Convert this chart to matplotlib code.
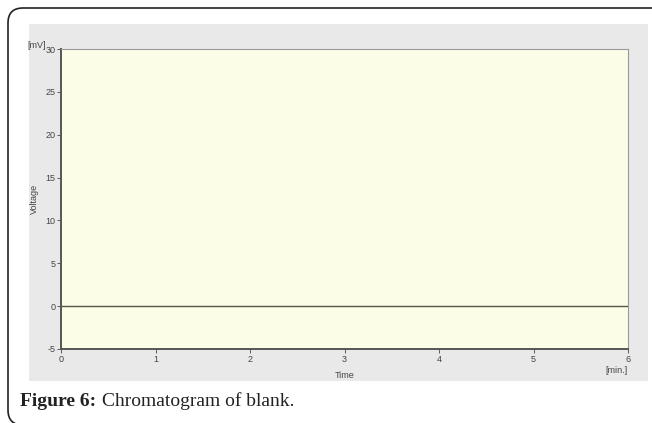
import matplotlib.pyplot as plt
from matplotlib.patches import FancyBboxPatch, Rectangle

# blank run: flat baseline over the whole time range
time_min = [0, 6]
voltage_mv = [0, 0]
x_ticks = [0, 1, 2, 3, 4, 5, 6]
y_ticks = [-5, 0, 5, 10, 15, 20, 25, 30]

plt.rcParams['axes.unicode_minus'] = False

W, H = 652, 423
fig = plt.figure(figsize=(W / 100, H / 100), dpi=100)
fig.patch.set_facecolor('white')

# rounded outer frame (only top/left visible)
frame = FancyBboxPatch((0.08, -0.02), 7.0, 4.17, boxstyle='round,pad=0,rounding_size=0.15',
                       transform=fig.dpi_scale_trans, fill=False, ec='#222222', lw=1.2,
                       zorder=-2)
fig.patches.append(frame)

# grey panel behind the chart
panel = Rectangle((29 / W, 1 - 381 / H), 619 / W, 357 / H, transform=fig.transFigure,
                  fc='#e9e9e9', ec='none', zorder=-1)
fig.patches.append(panel)

ax = fig.add_axes([61 / W, 1 - 349 / H, 567 / W, 300 / H])
ax.set_facecolor('#fcfde7')
ax.plot(time_min, voltage_mv, color='#555548', lw=1.0)
ax.set_xlim(0, 6)
ax.set_ylim(-5, 30)
ax.set_xticks(x_ticks)
ax.set_yticks(y_ticks)
ax.tick_params(labelsize=6.5, colors='#444444', length=3, width=0.6, pad=1)
for lbl in ax.get_xticklabels() + ax.get_yticklabels():
    lbl.set_family('Liberation Sans')

ax.spines['left'].set_color('#555555')
ax.spines['bottom'].set_color('#555555')
ax.spines['left'].set_linewidth(1.4)
ax.spines['bottom'].set_linewidth(1.4)
ax.spines['top'].set_color('#9a9a9a')
ax.spines['right'].set_color('#9a9a9a')

ax.set_xlabel('Time', fontsize=6.5, color='#444444', family='Liberation Sans', labelpad=5)
ax.set_ylabel('Voltage', fontsize=6.5, color='#444444', family='Liberation Sans', labelpad=5)

fig.text(46 / W, 1 - 45 / H, '[mV]', fontsize=6.5, color='#444444', family='Liberation Sans',
         ha='right', va='center')
fig.text(617 / W, 1 - 370 / H, '[min.]', fontsize=6.5, color='#444444', family='Liberation Sans',
         ha='center', va='center')

# caption: bold label followed by plain text
t1 = fig.text(20 / W, 1 - 401 / H, 'Figure 6:', fontsize=14, weight='bold',
              family='Liberation Serif', va='center', color='#222222')
fig.canvas.draw()
x_end = t1.get_window_extent().x1 + 6
fig.text(x_end / W, 1 - 401 / H, 'Chromatogram of blank.', fontsize=14,
         family='Liberation Serif', va='center', color='#222222')

fig.savefig('out.png', dpi=100)
